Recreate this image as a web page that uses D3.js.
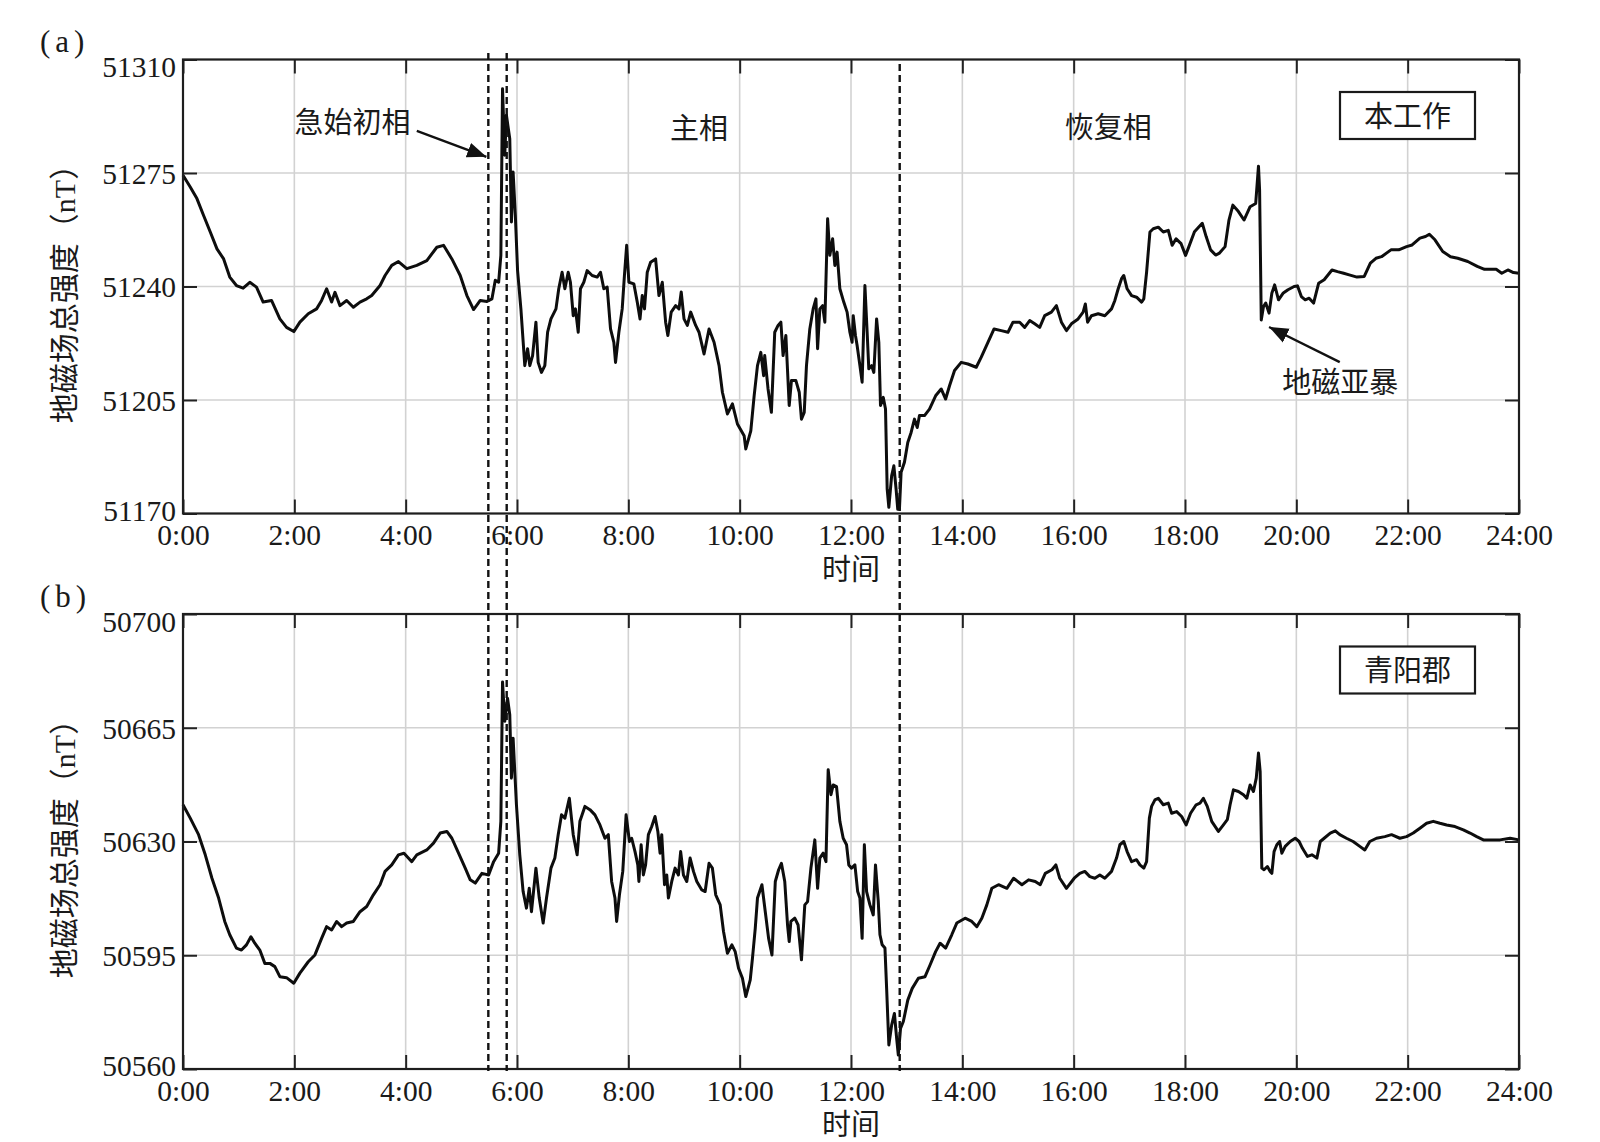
<!DOCTYPE html>
<html><head><meta charset="utf-8">
<script src="https://cdn.jsdelivr.net/npm/d3@7"></script>
<style>body{margin:0;background:#fff}svg{display:block}</style>
</head><body><svg id="c" width="1600" height="1142"></svg>
<script>
// [hour, nT] — 本工作 (panel a)
const seriesA = [[0,51274.3],[0.13,51270.7],[0.25,51267.1],[0.37,51261.9],[0.49,51256.8],[0.61,51251.6],[0.73,51248.5],[0.84,51242.9],[0.96,51240.3],[1.08,51239.5],[1.20,51241.3],[1.32,51239.8],[1.44,51235.2],[1.59,51235.7],[1.74,51230.0],[1.86,51227.4],[1.99,51226.1],[2.10,51229.0],[2.25,51231.6],[2.40,51233.1],[2.49,51235.7],[2.58,51239.3],[2.67,51235.2],[2.73,51238.2],[2.82,51234.1],[2.94,51235.7],[3.06,51233.6],[3.18,51235.2],[3.30,51236.2],[3.39,51237.2],[3.54,51240.3],[3.63,51243.4],[3.75,51246.5],[3.87,51247.7],[4.02,51245.5],[4.20,51246.5],[4.38,51248.0],[4.56,51252.1],[4.68,51252.7],[4.83,51248.5],[4.98,51243.4],[5.10,51237.2],[5.22,51232.9],[5.34,51235.7],[5.46,51235.4],[5.55,51236.2],[5.61,51241.9],[5.67,51241.3],[5.71,51249.6],[5.74,51301.0],[5.78,51280.5],[5.81,51292.8],[5.87,51285.6],[5.90,51259.9],[5.93,51275.3],[5.97,51262.0],[6.01,51245.0],[6.07,51233.1],[6.14,51215.6],[6.19,51220.8],[6.23,51215.6],[6.28,51218.7],[6.34,51229.0],[6.38,51216.6],[6.44,51213.5],[6.50,51215.6],[6.55,51225.9],[6.61,51230.0],[6.70,51233.1],[6.75,51239.3],[6.81,51244.4],[6.86,51239.3],[6.92,51244.4],[6.96,51241.3],[7.01,51231.0],[7.05,51233.1],[7.10,51225.9],[7.14,51239.3],[7.20,51241.3],[7.26,51244.9],[7.35,51243.4],[7.44,51242.9],[7.50,51244.4],[7.56,51239.3],[7.62,51239.8],[7.68,51226.9],[7.74,51222.8],[7.77,51216.6],[7.83,51225.9],[7.89,51233.1],[7.93,51243.4],[7.97,51252.7],[8.01,51241.3],[8.10,51240.8],[8.16,51235.2],[8.21,51230.0],[8.25,51237.2],[8.29,51233.1],[8.34,51244.4],[8.40,51247.5],[8.49,51248.5],[8.55,51237.2],[8.61,51241.3],[8.67,51229.0],[8.71,51224.9],[8.77,51232.1],[8.85,51234.1],[8.91,51233.1],[8.95,51238.3],[9.00,51230.0],[9.06,51228.0],[9.12,51232.1],[9.21,51228.0],[9.27,51225.9],[9.36,51219.2],[9.45,51226.9],[9.54,51222.8],[9.63,51215.6],[9.69,51207.4],[9.78,51200.7],[9.87,51203.8],[9.96,51197.6],[10.08,51194.0],[10.11,51189.9],[10.20,51195.5],[10.26,51206.3],[10.32,51215.6],[10.38,51219.7],[10.43,51212.5],[10.45,51218.7],[10.51,51208.4],[10.57,51201.2],[10.63,51225.9],[10.69,51228.0],[10.74,51229.0],[10.78,51218.7],[10.83,51224.9],[10.89,51203.3],[10.93,51211.0],[11.01,51211.0],[11.07,51207.4],[11.11,51199.1],[11.16,51201.2],[11.20,51215.6],[11.26,51226.9],[11.32,51233.1],[11.37,51236.2],[11.40,51220.8],[11.44,51233.1],[11.49,51234.1],[11.53,51229.0],[11.58,51260.9],[11.62,51249.6],[11.67,51254.7],[11.71,51246.5],[11.75,51250.6],[11.80,51239.3],[11.87,51235.2],[11.93,51232.1],[11.98,51225.9],[12.02,51222.8],[12.04,51231.0],[12.08,51224.9],[12.11,51221.8],[12.16,51215.6],[12.20,51210.5],[12.25,51240.3],[12.29,51225.9],[12.32,51214.6],[12.37,51215.6],[12.41,51213.5],[12.46,51230.0],[12.50,51222.8],[12.53,51203.3],[12.58,51205.8],[12.62,51202.2],[12.65,51177.5],[12.68,51171.9],[12.73,51181.6],[12.77,51184.7],[12.81,51177.5],[12.84,51171.3],[12.87,51171.3],[12.90,51182.7],[12.96,51185.8],[13.02,51191.9],[13.08,51195.0],[13.14,51199.1],[13.19,51196.5],[13.23,51200.2],[13.32,51200.2],[13.41,51202.2],[13.52,51206.3],[13.62,51208.4],[13.70,51205.3],[13.77,51209.4],[13.86,51214.1],[13.98,51216.6],[14.10,51216.1],[14.25,51215.1],[14.34,51218.2],[14.46,51222.8],[14.57,51226.9],[14.70,51226.4],[14.82,51225.9],[14.91,51229.0],[15.03,51229.0],[15.12,51227.4],[15.21,51229.5],[15.30,51228.5],[15.39,51227.4],[15.48,51231.0],[15.60,51232.1],[15.69,51234.1],[15.78,51229.0],[15.87,51226.4],[15.96,51228.5],[16.08,51230.0],[16.17,51232.1],[16.21,51234.6],[16.25,51229.0],[16.32,51231.0],[16.44,51231.6],[16.56,51231.0],[16.68,51233.1],[16.74,51235.7],[16.80,51239.3],[16.86,51242.4],[16.90,51243.4],[16.96,51239.3],[17.04,51237.2],[17.13,51236.7],[17.22,51235.2],[17.26,51236.2],[17.31,51244.4],[17.37,51256.8],[17.43,51257.8],[17.52,51258.3],[17.61,51256.8],[17.70,51257.3],[17.77,51252.7],[17.84,51254.7],[17.93,51253.2],[18.01,51249.6],[18.07,51252.3],[18.17,51256.9],[18.31,51259.5],[18.38,51255.4],[18.46,51251.3],[18.55,51249.7],[18.62,51250.3],[18.72,51252.3],[18.79,51260.5],[18.86,51265.1],[18.96,51263.1],[19.06,51260.5],[19.17,51264.6],[19.27,51265.6],[19.32,51277.1],[19.34,51269.7],[19.37,51229.7],[19.41,51233.8],[19.45,51234.9],[19.51,51231.8],[19.56,51237.9],[19.61,51240.5],[19.68,51235.9],[19.76,51237.9],[19.85,51239.0],[19.96,51240.0],[20.02,51240.2],[20.09,51236.9],[20.16,51235.9],[20.23,51236.4],[20.31,51234.9],[20.40,51241.0],[20.50,51242.1],[20.64,51245.1],[20.74,51244.6],[20.85,51244.1],[20.95,51243.6],[21.09,51242.9],[21.22,51243.1],[21.33,51247.2],[21.43,51248.7],[21.53,51249.2],[21.70,51251.3],[21.84,51251.3],[21.98,51252.3],[22.08,51252.8],[22.22,51254.9],[22.32,51255.4],[22.39,51256.1],[22.49,51254.4],[22.63,51250.8],[22.77,51249.2],[22.90,51248.7],[23.08,51247.7],[23.25,51246.2],[23.38,51245.3],[23.59,51245.3],[23.69,51244.1],[23.80,51245.1],[23.90,51244.3],[24.00,51244.1]];

// [hour, nT] — 青阳郡 (panel b)
const seriesB = [[0,50641.3],[0.13,50637.2],[0.28,50632.1],[0.40,50625.9],[0.52,50618.7],[0.64,50612.6],[0.75,50605.4],[0.84,50601.3],[0.96,50597.2],[1.05,50596.6],[1.14,50598.2],[1.22,50600.7],[1.29,50598.7],[1.38,50596.6],[1.47,50592.5],[1.56,50592.5],[1.65,50591.5],[1.74,50588.4],[1.86,50588.1],[1.99,50586.4],[2.10,50589.5],[2.25,50593.0],[2.37,50595.1],[2.49,50600.2],[2.58,50603.8],[2.67,50602.8],[2.76,50605.4],[2.85,50603.8],[2.94,50604.9],[3.06,50605.4],[3.18,50608.4],[3.30,50610.0],[3.42,50613.6],[3.54,50616.7],[3.63,50620.8],[3.75,50622.8],[3.87,50625.9],[3.97,50626.4],[4.11,50623.8],[4.20,50625.9],[4.38,50627.4],[4.50,50629.5],[4.62,50632.6],[4.74,50633.1],[4.83,50631.0],[4.95,50626.4],[5.07,50621.8],[5.16,50618.2],[5.25,50617.2],[5.37,50620.2],[5.49,50619.7],[5.58,50623.8],[5.67,50626.4],[5.71,50636.2],[5.74,50679.1],[5.78,50667.0],[5.83,50674.1],[5.87,50669.0],[5.90,50649.5],[5.93,50661.8],[5.99,50641.3],[6.05,50625.9],[6.11,50614.6],[6.17,50609.5],[6.22,50615.6],[6.26,50608.4],[6.34,50621.8],[6.40,50612.6],[6.47,50604.9],[6.53,50612.6],[6.61,50621.8],[6.68,50624.9],[6.74,50632.1],[6.80,50638.2],[6.86,50637.2],[6.94,50643.3],[7.01,50632.1],[7.08,50625.9],[7.13,50636.2],[7.22,50640.8],[7.31,50639.8],[7.40,50638.2],[7.49,50635.1],[7.58,50631.0],[7.64,50632.1],[7.70,50617.7],[7.76,50612.6],[7.79,50605.4],[7.84,50613.6],[7.90,50620.8],[7.96,50638.2],[8.02,50630.0],[8.06,50631.0],[8.12,50626.9],[8.17,50622.8],[8.19,50617.7],[8.23,50629.0],[8.27,50619.7],[8.31,50622.8],[8.36,50632.1],[8.42,50634.6],[8.48,50637.7],[8.53,50633.1],[8.57,50626.4],[8.60,50632.1],[8.65,50616.7],[8.69,50619.7],[8.72,50612.6],[8.78,50617.7],[8.84,50621.8],[8.90,50619.7],[8.94,50626.9],[8.99,50619.7],[9.05,50617.7],[9.11,50624.9],[9.17,50620.8],[9.23,50617.7],[9.32,50615.1],[9.38,50614.6],[9.45,50623.3],[9.51,50621.8],[9.57,50613.6],[9.65,50610.5],[9.71,50602.3],[9.78,50595.6],[9.86,50598.2],[9.92,50596.1],[9.98,50591.0],[10.05,50587.9],[10.11,50582.3],[10.19,50587.4],[10.23,50594.1],[10.28,50603.3],[10.32,50612.6],[10.40,50616.7],[10.46,50608.4],[10.52,50600.2],[10.58,50595.1],[10.64,50617.7],[10.70,50621.3],[10.75,50623.3],[10.81,50617.7],[10.86,50604.3],[10.89,50599.2],[10.92,50605.4],[10.99,50606.4],[11.05,50604.3],[11.11,50593.6],[11.17,50610.5],[11.22,50611.5],[11.28,50621.8],[11.35,50630.5],[11.40,50615.6],[11.44,50624.9],[11.50,50626.4],[11.55,50623.8],[11.59,50652.1],[11.64,50644.4],[11.68,50647.4],[11.74,50646.9],[11.80,50636.2],[11.86,50631.0],[11.92,50629.0],[11.96,50622.8],[12.01,50621.8],[12.07,50622.8],[12.12,50614.6],[12.16,50612.6],[12.20,50600.2],[12.24,50629.0],[12.28,50614.6],[12.34,50610.5],[12.40,50607.4],[12.44,50622.8],[12.49,50611.5],[12.52,50601.3],[12.56,50598.2],[12.61,50597.2],[12.64,50584.8],[12.68,50567.4],[12.73,50573.5],[12.78,50577.1],[12.82,50569.4],[12.85,50564.3],[12.89,50572.5],[12.94,50574.6],[13.02,50581.2],[13.10,50584.8],[13.21,50587.9],[13.33,50588.4],[13.42,50592.0],[13.52,50596.1],[13.60,50598.7],[13.70,50597.2],[13.81,50601.3],[13.90,50604.9],[14.05,50606.4],[14.17,50605.4],[14.26,50603.8],[14.35,50606.4],[14.44,50610.5],[14.53,50615.6],[14.65,50616.7],[14.80,50615.6],[14.92,50618.7],[15.07,50616.7],[15.19,50618.2],[15.31,50617.7],[15.40,50616.7],[15.49,50620.2],[15.61,50621.3],[15.68,50622.8],[15.75,50618.7],[15.87,50615.6],[16.01,50618.7],[16.11,50620.2],[16.20,50620.8],[16.29,50619.2],[16.38,50618.7],[16.47,50619.7],[16.56,50618.7],[16.68,50620.8],[16.77,50624.9],[16.83,50629.0],[16.90,50630.0],[16.96,50626.9],[17.04,50623.8],[17.13,50624.4],[17.19,50622.8],[17.26,50621.8],[17.31,50623.8],[17.36,50637.2],[17.40,50640.8],[17.46,50642.8],[17.52,50643.3],[17.61,50641.3],[17.70,50641.8],[17.76,50638.7],[17.85,50639.2],[17.94,50637.7],[18.02,50635.1],[18.10,50638.7],[18.20,50641.3],[18.27,50641.8],[18.33,50643.3],[18.40,50640.8],[18.48,50636.2],[18.60,50633.1],[18.69,50635.1],[18.76,50636.7],[18.81,50641.3],[18.87,50645.9],[18.96,50645.4],[19.05,50644.4],[19.11,50643.3],[19.17,50647.4],[19.23,50645.4],[19.28,50649.5],[19.32,50657.2],[19.35,50651.6],[19.38,50621.8],[19.42,50621.3],[19.48,50622.3],[19.53,50620.8],[19.56,50620.2],[19.60,50626.9],[19.65,50629.0],[19.70,50630.0],[19.74,50626.4],[19.80,50628.5],[19.89,50630.0],[19.98,50631.0],[20.05,50630.0],[20.11,50627.9],[20.20,50625.4],[20.28,50625.9],[20.37,50624.9],[20.43,50630.0],[20.50,50631.0],[20.61,50632.6],[20.70,50633.3],[20.78,50632.1],[20.90,50631.0],[21.02,50630.0],[21.14,50628.5],[21.23,50627.4],[21.32,50630.0],[21.44,50631.0],[21.59,50631.5],[21.71,50632.1],[21.86,50631.0],[21.98,50631.5],[22.10,50632.6],[22.22,50634.1],[22.34,50635.6],[22.46,50636.2],[22.58,50635.6],[22.70,50635.1],[22.85,50634.6],[23.00,50633.6],[23.12,50632.6],[23.24,50631.5],[23.36,50630.5],[23.51,50630.5],[23.66,50630.5],[23.84,50631.0],[24.00,50630.5]];

const xTickValues = [0,2,4,6,8,10,12,14,16,18,20,22,24];
const yTicksA = [51170,51205,51240,51275,51310];
const yTicksB = [50560,50595,50630,50665,50700];
const phaseLineTimes = [5.485, 5.815, 12.875];
const panelLabels = ["(a)", "(b)"];
const stationNames = ["本工作", "青阳郡"];
const phaseNames = ["急始初相", "主相", "恢复相"];
const phaseLabelPos = [[3.045, 51290.3], [9.27, 51288.6], [16.62, 51288.9]];
const substormLabel = "地磁亚暴";
const yTitle = "地磁场总强度（nT）";
const xTitle = "时间";

const svg = d3.select("#c");
svg.append("rect").attr("width",1600).attr("height",1142).attr("fill","#fff");
const NUM_FONT = "'Liberation Serif','Times New Roman',serif";
const CJK_FONT = "'Liberation Serif','Noto Sans CJK SC',sans-serif";
const L = 183, R = 1519;
const panels = [
  {top:59.5, bottom:513.5, data:seriesA, ticks:yTicksA, label:panelLabels[0], station:stationNames[0]},
  {top:614, bottom:1069, data:seriesB, ticks:yTicksB, label:panelLabels[1], station:stationNames[1]}
];
const x = d3.scaleLinear().domain([0,24]).range([L,R]);

const defs = svg.append("defs");
defs.append("marker").attr("id","arr").attr("viewBox","0 0 10 10").attr("refX",10).attr("refY",5)
  .attr("markerWidth",8).attr("markerHeight",8).attr("markerUnits","strokeWidth").attr("orient","auto")
  .append("path").attr("d","M0,1 L10,5 L0,9 Z").attr("fill","#111");

panels.forEach((p, i) => {
  const y = d3.scaleLinear().domain([p.ticks[0], p.ticks[p.ticks.length-1]]).range([p.bottom, p.top]);
  p.y = y;
  const g = svg.append("g");
  // grid
  g.append("g").selectAll("line").data(xTickValues).join("line")
    .attr("x1", d=>x(d)).attr("x2", d=>x(d)).attr("y1", p.top).attr("y2", p.bottom)
    .attr("stroke","#d2d2d2").attr("stroke-width",1.6);
  g.append("g").selectAll("line").data(p.ticks).join("line")
    .attr("x1", L).attr("x2", R).attr("y1", d=>y(d)).attr("y2", d=>y(d))
    .attr("stroke","#d2d2d2").attr("stroke-width",1.6);
  // data line
  g.append("path").datum(p.data)
    .attr("d", d3.line().x(d=>x(d[0])).y(d=>y(d[1])))
    .attr("fill","none").attr("stroke","#0d0d0d").attr("stroke-width",3)
    .attr("stroke-linejoin","round");
  // axes
  const styleAxis = (ag) => {
    ag.select(".domain").remove();
    ag.selectAll(".tick line").attr("stroke","#222").attr("stroke-width",2);
    ag.selectAll("text").attr("font-family",NUM_FONT).attr("font-size",29.5).attr("fill","#1a1a1a");
  };
  g.append("g").attr("transform",`translate(0,${p.bottom})`)
    .call(d3.axisBottom(x).tickValues(xTickValues).tickSize(-14).tickPadding(10.8).tickFormat(d=>d+":00"))
    .call(styleAxis);
  g.append("g").attr("transform",`translate(0,${p.top})`)
    .call(d3.axisTop(x).tickValues(xTickValues).tickSize(-14).tickFormat(""))
    .call(styleAxis);
  const la = g.append("g").attr("transform",`translate(${L},0)`)
    .call(d3.axisLeft(y).tickValues(p.ticks).tickSize(-14).tickPadding(7).tickFormat(d3.format("d")))
    .call(styleAxis);
  la.selectAll("text").attr("dy", d => d === p.ticks[p.ticks.length-1] ? "0.58em" : (d === p.ticks[0] ? "0.22em" : "0.35em"));
  g.append("g").attr("transform",`translate(${R},0)`)
    .call(d3.axisRight(y).tickValues(p.ticks).tickSize(-14).tickFormat(""))
    .call(styleAxis);
  // frame
  g.append("rect").attr("x",L).attr("y",p.top).attr("width",R-L).attr("height",p.bottom-p.top)
    .attr("fill","none").attr("stroke","#1e1e1e").attr("stroke-width",2.2);
  // panel label
  svg.append("text").attr("x",40).attr("y",p.top-18).attr("dominant-baseline","central")
    .attr("font-family",NUM_FONT).attr("font-size",31).attr("letter-spacing",5).attr("fill","#1a1a1a").text(p.label);
  // y title
  svg.append("text").attr("transform",`translate(64,${(p.top+p.bottom)/2}) rotate(-90)`)
    .attr("text-anchor","middle").attr("dominant-baseline","central")
    .attr("font-family",CJK_FONT).attr("font-size",30).attr("fill","#1a1a1a").text(yTitle);
  // x title
  svg.append("text").attr("x",(L+R)/2).attr("y",p.bottom+56).attr("text-anchor","middle").attr("dominant-baseline","central")
    .attr("font-family",CJK_FONT).attr("font-size",29).attr("fill","#1a1a1a").text(xTitle);
  // station box
  const bx = R-179, by = p.top+32.5, bw = 135, bh = 47;
  svg.append("rect").attr("x",bx).attr("y",by).attr("width",bw).attr("height",bh)
    .attr("fill","#fff").attr("stroke","#1a1a1a").attr("stroke-width",2.2);
  svg.append("text").attr("x",bx+bw/2).attr("y",by+bh/2+1).attr("text-anchor","middle").attr("dominant-baseline","central")
    .attr("font-family",CJK_FONT).attr("font-size",29).attr("fill","#1a1a1a").text(p.station);
});

// phase annotations (panel a)
const ya = panels[0].y;
phaseNames.forEach((name, i) => {
  svg.append("text").attr("x", x(phaseLabelPos[i][0])).attr("y", ya(phaseLabelPos[i][1]))
    .attr("text-anchor","middle").attr("dominant-baseline","central")
    .attr("font-family",CJK_FONT).attr("font-size",29).attr("fill","#1a1a1a").text(name);
});
svg.append("line").attr("x1",x(4.2)).attr("y1",ya(51288)).attr("x2",x(5.45)).attr("y2",ya(51280))
  .attr("stroke","#111").attr("stroke-width",2.4).attr("marker-end","url(#arr)");
svg.append("text").attr("x",x(20.79)).attr("y",ya(51210.25)).attr("text-anchor","middle").attr("dominant-baseline","central")
  .attr("font-family",CJK_FONT).attr("font-size",29).attr("fill","#1a1a1a").text(substormLabel);
svg.append("line").attr("x1",x(20.78)).attr("y1",ya(51216.7)).attr("x2",x(19.51)).attr("y2",ya(51227.5))
  .attr("stroke","#111").attr("stroke-width",2.4).attr("marker-end","url(#arr)");

// phase boundary dashed lines spanning both panels
svg.append("g").selectAll("line").data(phaseLineTimes).join("line")
  .attr("x1", d=>x(d)).attr("x2", d=>x(d))
  .attr("y1", d => d < 6 ? 53 : 64).attr("y2", 1071)
  .attr("stroke","#111").attr("stroke-width",2.4).attr("stroke-dasharray","7,4");
</script></body></html>
